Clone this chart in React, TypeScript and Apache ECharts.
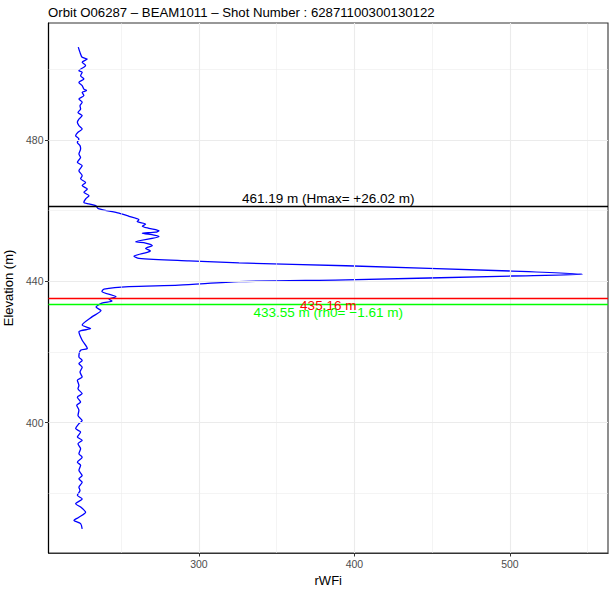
import React, { useEffect, useRef } from "react";
import * as echarts from "echarts";

const chartTitle = "Orbit O06287 – BEAM1011 – Shot Number : 62871100300130122";
const xAxisTitle = "rWFi";
const yAxisTitle = "Elevation (m)";

// waveform: elevation (m) and return energy (rWFi), ordered from top to bottom
const elevation = [
  506.3, 504.8, 503.4, 502.9, 502.0, 501.1, 499.6, 499.2, 498.2, 497.3,
  496.3, 495.4, 494.4, 494.0, 493.5, 492.6, 491.6, 490.7, 489.7, 488.8,
  487.8, 486.9, 485.9, 485.0, 484.1, 483.1, 482.2, 481.2, 480.3, 479.3,
  478.4, 477.5, 476.0, 475.1, 473.7, 472.7, 471.3, 469.9, 469.0, 468.0,
  467.1, 466.1, 465.2, 464.2, 463.3, 462.3, 461.9, 461.4, 460.6, 459.3,
  458.4, 457.4, 456.9, 456.2, 455.6, 455.0, 454.3, 453.9, 453.6, 453.1,
  452.7, 451.2, 450.8, 450.1, 449.3, 448.6, 448.2, 447.1, 446.5, 445.8,
  445.2, 444.4, 442.9, 442.0, 441.5, 440.4, 439.9, 438.9, 438.5, 437.8,
  437.1, 435.6, 435.0, 434.4, 433.8, 432.7, 431.7, 430.0, 427.6, 426.6,
  425.7, 423.3, 421.0, 420.5, 418.6, 417.6, 416.7, 415.7, 414.3, 412.9,
  412.0, 410.5, 409.6, 408.2, 407.2, 405.8, 404.9, 403.5, 402.0, 400.6,
  399.7, 398.3, 397.3, 395.9, 395.0, 394.0, 392.6, 391.2, 390.2, 388.8,
  387.9, 386.5, 385.0, 384.1, 383.1, 381.7, 380.8, 379.4, 378.4, 377.0,
  376.1, 374.6, 373.2, 372.3, 371.4, 369.9,
];
const rWFi = [
  222.4, 223.5, 224.9, 228.2, 224.9, 227.1, 222.8, 224.9, 223.9, 226.0,
  222.8, 224.9, 226.0, 227.7, 224.9, 226.0, 222.8, 224.9, 223.5, 223.9,
  222.2, 224.9, 222.8, 221.8, 222.8, 224.9, 222.2, 220.7, 222.8, 221.8,
  223.5, 223.9, 222.8, 223.9, 221.8, 224.9, 222.8, 224.9, 223.9, 227.1,
  224.9, 228.2, 226.0, 229.3, 227.1, 226.0, 229.3, 233.6, 235.3, 248.6,
  255.0, 261.4, 260.3, 265.7, 263.6, 267.8, 274.3, 272.1, 263.6, 271.1,
  274.3, 259.3, 265.7, 270.0, 265.7, 268.8, 266.7, 258.2, 261.4, 293.6,
  325.7, 394.5, 501.3, 546.7, 501.3, 394.5, 325.7, 287.1, 255.0, 238.9,
  237.6, 246.6, 242.1, 244.1, 237.6, 233.8, 237.0, 231.4, 224.9, 230.3,
  222.8, 224.9, 228.2, 223.9, 222.8, 224.9, 222.8, 224.9, 223.5, 224.9,
  221.8, 222.8, 222.2, 224.9, 221.8, 223.9, 221.4, 222.8, 222.2, 224.9,
  222.8, 220.7, 223.9, 221.8, 224.9, 222.2, 223.9, 222.8, 224.9, 221.8,
  223.9, 222.8, 224.9, 222.8, 224.9, 222.8, 223.5, 221.8, 224.9, 220.7,
  223.9, 227.1, 222.8, 219.6, 223.9, 224.9,
];

const xTicks = [300, 400, 500];
const yTicks = [400, 440, 480];
const xMinorGrid = [250, 350, 450, 550];
const yMinorGrid = [380, 420, 460, 500];

const refElevations = [461.19, 435.16, 433.55];
const refLabels = ["461.19 m (Hmax= +26.02 m)", "435.16 m", "433.55 m (rh0= \u22121.61 m)"];

const FONT = "'Liberation Sans', Arial, Helvetica, sans-serif";

export default function App() {
  const ref = useRef<HTMLDivElement>(null);

  useEffect(() => {
    if (!ref.current) return;
    const chart = echarts.init(ref.current, undefined, { renderer: "svg" });

    const xMin = Math.min(...rWFi);
    const xMax = Math.max(...rWFi);
    const yMin = Math.min(...elevation);
    const yMax = Math.max(...elevation);
    const xPad = (xMax - xMin) * 0.05;
    const yPad = (yMax - yMin) * 0.05;

    const wave = elevation.map((e, i) => [rWFi[i], e]);

    const gridColor = "#ebebeb";
    const gridLines = [
      ...xMinorGrid.map((v) => ({ xAxis: v, lineStyle: { width: 0.55, color: gridColor, type: "solid" } })),
      ...yMinorGrid.map((v) => ({ yAxis: v, lineStyle: { width: 0.55, color: gridColor, type: "solid" } })),
      ...xTicks.map((v) => ({ xAxis: v, lineStyle: { width: 1.1, color: gridColor, type: "solid" } })),
      ...yTicks.map((v) => ({ yAxis: v, lineStyle: { width: 1.1, color: gridColor, type: "solid" } })),
    ];

    const refStyles = [
      { color: "#000000", pos: "insideMiddleTop", dist: 1 },
      { color: "#ff0000", pos: "insideMiddleBottom", dist: 0 },
      { color: "#00ff00", pos: "insideMiddleBottom", dist: 1.5 },
    ];

    const refLineData = refElevations.map((v, i) => ({
      yAxis: v,
      lineStyle: { color: refStyles[i].color, width: 1.4, type: "solid" },
      label: {
        show: true,
        formatter: refLabels[i],
        position: refStyles[i].pos,
        distance: refStyles[i].dist,
        color: refStyles[i].color,
        fontSize: 13.5,
        fontFamily: FONT,
      },
    }));

    chart.setOption({
      animation: false,
      backgroundColor: "#ffffff",
      title: {
        text: chartTitle,
        left: 43,
        top: 1,
        textStyle: { fontSize: 13.2, fontWeight: "normal", color: "#000", fontFamily: FONT },
      },
      grid: {
        left: 48.5,
        right: 1,
        top: 23,
        bottom: 38,
        outerBoundsMode: "none",
        containLabel: false,
        show: true,
        borderColor: "#333333",
        borderWidth: 1.1,
        backgroundColor: "transparent",
      },
      xAxis: {
        type: "value",
        min: xMin - xPad,
        max: xMax + xPad,
        name: xAxisTitle,
        nameLocation: "middle",
        nameGap: 17.5,
        nameTextStyle: { fontSize: 13, color: "#000", fontFamily: FONT },
        axisLine: { show: true, lineStyle: { color: "#333333", width: 1.1 } },
        axisTick: { show: true, customValues: xTicks, length: 3.5, lineStyle: { color: "#333333", width: 1 } },
        axisLabel: { customValues: xTicks, color: "#4d4d4d", fontSize: 10.5, margin: 5, fontFamily: FONT },
        splitLine: { show: false },
      },
      yAxis: {
        type: "value",
        min: yMin - yPad,
        max: yMax + yPad,
        name: yAxisTitle,
        nameLocation: "middle",
        nameRotate: 90,
        nameGap: 29,
        nameTextStyle: { fontSize: 13, color: "#000", fontFamily: FONT },
        axisLine: { show: true, lineStyle: { color: "#000000", width: 1.2 } },
        axisTick: { show: true, customValues: yTicks, length: 3.5, lineStyle: { color: "#333333", width: 1 } },
        axisLabel: { customValues: yTicks, color: "#4d4d4d", fontSize: 10.5, margin: 5, fontFamily: FONT },
        splitLine: { show: false },
      },
      series: [
        {
          type: "line",
          data: [],
          silent: true,
          z: 1,
          markLine: {
            silent: true,
            symbol: ["none", "none"],
            label: { show: false },
            data: gridLines,
          },
        },
        {
          type: "line",
          data: wave,
          showSymbol: false,
          smooth: 0.25,
          z: 3,
          lineStyle: { color: "#0000ff", width: 1.3 },
          itemStyle: { color: "#0000ff" },
        },
        {
          type: "line",
          data: [],
          silent: true,
          z: 4,
          markLine: {
            silent: true,
            symbol: ["none", "none"],
            data: refLineData,
          },
        },
      ],
    });

    return () => chart.dispose();
  }, []);

  return <div ref={ref} style={{ width: 609, height: 591, position: "absolute", left: 0, top: 0 }} />;
}
